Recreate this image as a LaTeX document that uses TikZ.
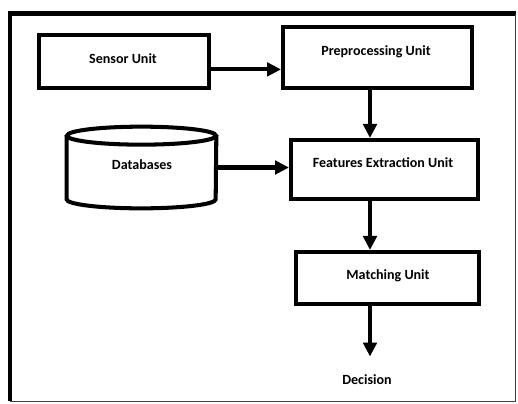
\documentclass[tikz,border=0pt]{standalone}
\usepackage{fontspec}
\setmainfont{Carlito}
\usepackage {tikz}
\usetikzlibrary {arrows.meta}

\begin{document}
\begin{tikzpicture}[x=0.02cm,y=-0.02cm,
  font=\fontsize{8}{9.6}\selectfont\bfseries,
  unit/.style={draw,line width=2.3pt,inner sep=0pt},
  flow/.style={line width=2.3pt,-{Triangle[length=0.28cm,width=0.27cm]}}]
\useasboundingbox (0,0) rectangle (518,403);
% frame
\draw[line width=2.6pt] (10,401) -- (10,13.5) -- (516,13.5);
\draw[black!75,line width=0.6pt] (515.5,13.5) -- (515.5,401.5) -- (10,401.5);
% units
\path (124,61.5) node[unit,minimum width=3.4cm,minimum height=1.06cm] (sensor) {}
(123,59) node {Sensor Unit}
(377.5,57.5) node[unit,minimum width=3.78cm,minimum height=1.22cm] (preproc) {}
(376,52) node {Preprocessing Unit}
(384.5,169.5) node[unit,minimum width=3.74cm,minimum height=1.18cm] (feat) {}
(383,163) node {Features Extraction Unit}
(387.5,278) node[unit,minimum width=3.66cm,minimum height=1.04cm] (match) {}
(388,276) node {Matching Unit}
(141.5,167.5) node[minimum width=2.98cm,minimum height=1.26cm,inner sep=0pt] (db) {}
(142,165) node {Databases}
(367,380) node (dec) {Decision}
(370,0) coordinate (axis);
% database drum
\draw[line width=2.3pt] (db.north west) -- (db.south west)
  arc[start angle=180,end angle=0,x radius=74.5,y radius=9] -- (db.north east);
\draw[line width=2.3pt] (db.north) ellipse[x radius=74.5,y radius=9];
% connections
\draw[flow] ([yshift=-4.5pt]sensor.east) coordinate (s1) -- (s1 -| preproc.west);
\draw[flow] ([xshift=1pt]db.east) -- (db.east -| feat.west);
\draw[flow] (preproc.south -| axis) -- (feat.north -| axis);
\draw[flow] (feat.south -| axis) -- (match.north -| axis);
\draw[flow] (match.south -| axis) -- ([yshift=7pt]dec.north -| axis);
\end{tikzpicture}
\end{document}
